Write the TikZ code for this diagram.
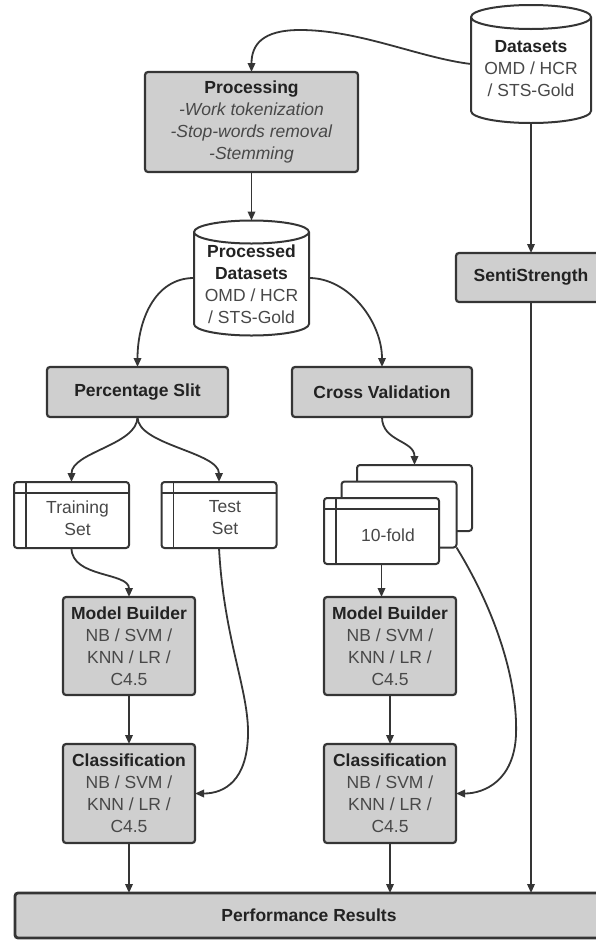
\documentclass[tikz,border=0pt]{standalone}
\usepackage{fontspec}
\setmainfont{Liberation Sans}
\usetikzlibrary{arrows.meta,calc}
\definecolor{boxfill}{HTML}{CFCFCF}
\definecolor{edgec}{HTML}{353535}
\definecolor{tdark}{HTML}{222222}
\definecolor{tgrey}{HTML}{484848}
\newcommand{\drawcyl}[2]{%
  \draw[draw=edgec,line width=2pt,fill=white]
    let \p1=(#1.north west), \p2=(#1.south east), \n1={(\x2-\x1)/2} in
    (\x1,\y1-#2pt) -- (\x1,\y2+#2pt)
      arc[start angle=180,end angle=360,x radius=\n1,y radius=#2pt]
      -- (\x2,\y1-#2pt)
      arc[start angle=0,end angle=180,x radius=\n1,y radius=#2pt] -- cycle
    (\x1,\y1-#2pt) arc[start angle=180,end angle=360,x radius=\n1,y radius=#2pt];
}
\newcommand{\ttl}[1]{{\bfseries\color{tdark}#1}}
\begin{document}
\begin{tikzpicture}[x=1pt,y=1pt,
  every node/.style={font=\fontsize{17.5}{22}\selectfont, inner sep=0pt, outer sep=0pt, text=tgrey},
  gbox/.style={draw=edgec, line width=2.2pt, fill=boxfill, rounded corners=3pt, align=center},
  wbox/.style={draw=edgec, line width=2pt, fill=white, rounded corners=3pt, minimum width=115pt, minimum height=66pt},
  lbl/.style={align=center},
  conn/.style={draw=edgec, line width=1.8pt, -{Triangle[length=9pt,width=7.5pt]}},
]
\useasboundingbox (0,0) rectangle (595,-940);

% cylinders
\node[minimum width=120pt, minimum height=118pt] (ds) at (531,-64) {};
\drawcyl{ds}{12}
\node[lbl] (dst) at (531,-68.5) {\ttl{Datasets}\\OMD / HCR\\/ STS-Gold};

\node[minimum width=115pt, minimum height=115pt] (pds) at (251.5,-278) {};
\drawcyl{pds}{11.5}
\node[lbl] (pdst) at (251.5,-284.5) {\ttl{Processed}\\\ttl{Datasets}\\OMD / HCR\\/ STS-Gold};

% grey boxes
\node[gbox, minimum width=213pt, minimum height=100pt] (proc) at (251.5,-122)
  {\ttl{Processing}\\\textit{-Work tokenization}\\\textit{-Stop-words removal}\\\textit{-Stemming}};
\node[gbox, minimum width=150pt, minimum height=49pt] (senti) at (531,-277.5) {\ttl{SentiStrength}};
\node[gbox, minimum width=181pt, minimum height=50pt] (ps) at (137.5,-392) {\ttl{Percentage Slit}};
\node[gbox, minimum width=180pt, minimum height=50pt] (cv) at (382,-392) {\ttl{Cross Validation}};

\node[gbox, minimum width=132pt, minimum height=98pt] (mb1) at (129,-646)
  {\ttl{Model Builder}\\NB / SVM /\\KNN / LR /\\C4.5};
\node[gbox, minimum width=132pt, minimum height=98pt] (mb2) at (390,-646)
  {\ttl{Model Builder}\\NB / SVM /\\KNN / LR /\\C4.5};
\node[gbox, minimum width=132pt, minimum height=99pt] (cl1) at (129,-793.5)
  {\ttl{Classification}\\NB / SVM /\\KNN / LR /\\C4.5};
\node[gbox, minimum width=132pt, minimum height=99pt] (cl2) at (390,-793.5)
  {\ttl{Classification}\\NB / SVM /\\KNN / LR /\\C4.5};
\node[gbox, line width=2.8pt, minimum width=588pt, minimum height=45pt] (perf) at (309,-915.5)
  {\ttl{Performance Results}};

% storage boxes
\node[wbox] (train) at (71.5,-515) {};
\draw[draw=edgec, line width=1.8pt] ([xshift=12pt]train.north west) -- ([xshift=12pt]train.south west)
  ([yshift=-11pt]train.north west) -- ([yshift=-11pt]train.north east);
\node[lbl] (traint) at (77.5,-518) {Training\\Set};

\node[wbox] (test) at (219,-515) {};
\draw[draw=edgec, line width=1.8pt] ([xshift=12pt]test.north west) -- ([xshift=12pt]test.south west)
  ([yshift=-11pt]test.north west) -- ([yshift=-11pt]test.north east);
\node[lbl] (testt) at (225,-518) {Test\\Set};

\node[wbox] (back) at (414.5,-498) {};
\node[wbox] (mid) at (399,-514.5) {};
\node[wbox] (front) at (381.5,-531) {};
\draw[draw=edgec, line width=1.8pt] ([xshift=12pt]front.north west) -- ([xshift=12pt]front.south west)
  ([yshift=-11pt]front.north west) -- ([yshift=-11pt]front.north east);
\node[lbl] (frontt) at (388,-535) {10-fold};

% connectors
\draw[conn] (ds.west) .. controls (420,-58) and (360,-30) .. (300,-30)
  .. controls (262,-30) and (251.5,-45) .. (proc.north);
\draw[conn] (proc.south) -- (pds.north);
\draw[conn] (ds.south) -- (senti.north);
\draw[conn] (senti.south) -- (senti.south |- perf.north);
\draw[conn] (pds.west) .. controls +(-40,0) and +(0,45) .. (ps.north);
\draw[conn] (pds.east) .. controls +(40,0) and +(0,45) .. (cv.north);
\draw[conn] (ps.south) .. controls +(0,-28) and +(0,30) .. (train.north);
\draw[conn] (ps.south) .. controls +(0,-28) and +(0,30) .. (test.north);
\draw[conn] (cv.south) .. controls +(0,-25) and +(0,25) .. (back.north);
\draw[conn] (train.south) .. controls +(0,-30) and +(0,25) .. (mb1.north);
\draw[conn] (test.south) .. controls (224,-640) and (249,-690) .. (248,-735)
  .. controls (247,-780) and (225,-793.5) .. (cl1.east);
\draw[conn] (front.south) -- (front.south |- mb2.north);
\draw[conn] (mid.south east) .. controls (495,-610) and (518,-680) .. (516,-735)
  .. controls (514,-780) and (485,-793.5) .. (cl2.east);
\draw[conn] (mb1.south) -- (cl1.north);
\draw[conn] (mb2.south) -- (cl2.north);
\draw[conn] (cl1.south) -- (cl1.south |- perf.north);
\draw[conn] (cl2.south) -- (cl2.south |- perf.north);
\end{tikzpicture}
\end{document}
